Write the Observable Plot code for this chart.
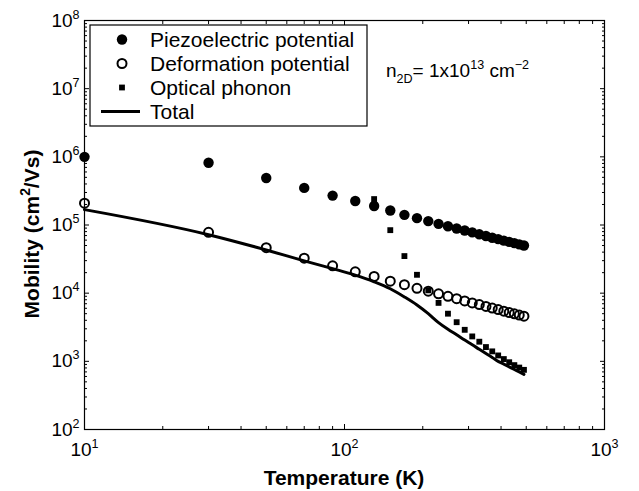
<!DOCTYPE html>
<html>
<head>
<meta charset="utf-8">
<script src="https://cdn.jsdelivr.net/npm/d3@7"></script>
<script src="https://cdn.jsdelivr.net/npm/@observablehq/plot@0.6"></script>
<style>
  body { margin: 0; background: #fff; }
  #chart { width: 639px; height: 491px; }
</style>
</head>
<body>
<div id="chart"></div>
<script>
// Electron mobility limited by each scattering mechanism, n2D = 1e13 cm^-2
const temperature = [10, 30, 50, 70, 90, 110, 130, 150, 170, 190, 210, 230, 250,
  270, 290, 310, 330, 350, 370, 390, 410, 430, 450, 470, 490];
const piezoelectric = [1.0e6, 8.2e5, 4.9e5, 3.5e5, 2.7e5, 2.25e5, 1.9e5, 1.63e5, 1.41e5,
  1.26e5, 1.14e5, 1.04e5, 9.6e4, 8.9e4, 8.3e4, 7.8e4, 7.3e4, 6.9e4, 6.5e4, 6.2e4,
  5.9e4, 5.65e4, 5.42e4, 5.2e4, 5.0e4];
const deformation = [2.09e5, 7.8e4, 4.65e4, 3.26e4, 2.52e4, 2.06e4, 1.76e4, 1.50e4, 1.33e4,
  1.18e4, 1.07e4, 9.8e3, 9.0e3, 8.3e3, 7.7e3, 7.2e3, 6.8e3, 6.4e3, 6.05e3, 5.75e3,
  5.45e3, 5.2e3, 4.98e3, 4.78e3, 4.6e3];
const opticalTemperature = [130, 150, 170, 190, 210, 230, 250, 270, 290, 310, 330, 350,
  370, 390, 410, 430, 450, 470, 490];
const optical = [2.4e5, 8.4e4, 3.5e4, 1.86e4, 1.1e4, 7.2e3, 5.0e3, 3.75e3, 2.9e3, 2.32e3,
  1.94e3, 1.62e3, 1.40e3, 1.22e3, 1.08e3, 970, 880, 810, 750];
const total = [1.68e5, 7.2e4, 4.3e4, 2.98e4, 2.29e4, 1.84e4, 1.47e4, 1.16e4, 8.8e3, 6.7e3,
  5.0e3, 3.7e3, 2.95e3, 2.45e3, 2.05e3, 1.75e3, 1.5e3, 1.3e3, 1.14e3, 1.0e3,
  910, 830, 760, 700, 645];

const seriesLabels = ["Piezoelectric potential", "Deformation potential", "Optical phonon", "Total"];
const xTickValues = [10, 100, 1000];
const xTickLabels = ["10^{1}", "10^{2}", "10^{3}"];
const yTickValues = [1e2, 1e3, 1e4, 1e5, 1e6, 1e7, 1e8];
const yTickLabels = ["10^{2}", "10^{3}", "10^{4}", "10^{5}", "10^{6}", "10^{7}", "10^{8}"];
const xTitle = "Temperature (K)";
const yTitle = "Mobility (cm^{2}/Vs)";
const note = "n_{2D}= 1x10^{13} cm^{\u22122}";

// minor log ticks: 2..9 within each decade
const minorTicks = (lo, hi) => {
  const out = [];
  for (let e = lo; e < hi; e++) for (let m = 2; m <= 9; m++) out.push(m * 10 ** e);
  return out;
};
const minorX = minorTicks(1, 3);
const minorY = minorTicks(2, 8);

const rows = (xs, ys) => xs.map((t, i) => ({t, mu: ys[i]}));
const piezoData = rows(temperature, piezoelectric);
const deformData = rows(temperature, deformation);
const opticalData = rows(opticalTemperature, optical);
const totalData = rows(temperature, total);

const FONT = '"Liberation Sans", Arial, Helvetica, sans-serif';
const TICK_FS = 19;
const blank = () => "";

// inward-pointing ticks on all four sides
const inward = (len, xs, ys) => [
  Plot.axisX(xs, {anchor: "bottom", tickSize: len, dy: -len, tickFormat: blank, label: null}),
  Plot.axisX(xs, {anchor: "top", tickSize: len, dy: len, tickFormat: blank, label: null}),
  Plot.axisY(ys, {anchor: "left", tickSize: len, dx: len, tickFormat: blank, label: null}),
  Plot.axisY(ys, {anchor: "right", tickSize: len, dx: -len, tickFormat: blank, label: null})
];

const chart = Plot.plot({
  width: 639,
  height: 491,
  marginTop: 20,
  marginRight: 35,
  marginBottom: 62,
  marginLeft: 84,
  style: {fontFamily: FONT, background: "white", color: "black"},
  x: {type: "log", domain: [10, 1000]},
  y: {type: "log", domain: [1e2, 1e8]},
  marks: [
    Plot.dot(piezoData, {x: "t", y: "mu", r: 5.2, fill: "black"}),
    Plot.dot(deformData, {x: "t", y: "mu", r: 4.5, stroke: "black", strokeWidth: 2, fill: "none"}),
    Plot.dot(opticalData, {x: "t", y: "mu", symbol: "square", r: 3.3, fill: "black"}),
    Plot.line(totalData, {x: "t", y: "mu", stroke: "black", strokeWidth: 3, curve: "monotone-x"}),
    ...inward(5, xTickValues, yTickValues),
    ...inward(3, minorX, minorY),
    Plot.axisX(xTickValues, {anchor: "bottom", tickSize: 0, tickPadding: 13, fontSize: TICK_FS,
      tickFormat: d => xTickLabels[xTickValues.indexOf(d)], label: null}),
    Plot.axisY(yTickValues, {anchor: "left", tickSize: 0, tickPadding: 5, fontSize: TICK_FS,
      tickFormat: d => yTickLabels[yTickValues.indexOf(d)], label: null}),
    Plot.frame({stroke: "black", strokeWidth: 1.2})
  ]
});

// write "^{..}" / "_{..}" as raised / lowered tspans
function rich(sel, str, size) {
  sel.text(null);
  const parts = str.split(/([\^_])\{([^}]*)\}/);
  let shift = 0;
  for (let i = 0; i < parts.length; i += 3) {
    if (parts[i]) {
      sel.append("tspan").attr("dy", shift ? -shift : null).text(parts[i]);
      shift = 0;
    }
    if (i + 1 < parts.length) {
      const target = parts[i + 1] === "^" ? -0.42 * size : 0.34 * size;
      sel.append("tspan").attr("dy", target - shift).attr("font-size", 0.66 * size).text(parts[i + 2]);
      shift = target;
    }
  }
}

const svg = d3.select(chart);
svg.selectAll("text").each(function () {
  const s = this.textContent;
  if (s.includes("^{")) rich(d3.select(this), s, TICK_FS);
});

// axis titles
svg.append("text")
  .attr("x", 344).attr("y", 485)
  .attr("text-anchor", "middle").attr("font-weight", "bold").attr("font-size", 21)
  .text(xTitle);
rich(svg.append("text")
  .attr("transform", "translate(39,234) rotate(-90)")
  .attr("text-anchor", "middle").attr("font-weight", "bold").attr("font-size", 21), yTitle, 21);

// carrier density note
rich(svg.append("text").attr("x", 386).attr("y", 77).attr("text-anchor", "start")
  .attr("font-size", 19), note, 19);

// legend
const lg = svg.append("g").attr("font-size", 21).attr("font-family", FONT).attr("text-anchor", "start");
lg.append("rect").attr("x", 90).attr("y", 25).attr("width", 277).attr("height", 101)
  .attr("fill", "white").attr("stroke", "black").attr("stroke-width", 1.2);
const rowY = [39.5, 63.5, 87.5, 111.5];
const sx = 122;
lg.append("circle").attr("cx", sx).attr("cy", rowY[0]).attr("r", 5.2).attr("fill", "black");
lg.append("circle").attr("cx", sx).attr("cy", rowY[1]).attr("r", 4.5)
  .attr("fill", "none").attr("stroke", "black").attr("stroke-width", 2);
lg.append("rect").attr("x", sx - 2.9).attr("y", rowY[2] - 2.9).attr("width", 5.8).attr("height", 5.8)
  .attr("fill", "black");
lg.append("line").attr("x1", 101).attr("x2", 140).attr("y1", rowY[3]).attr("y2", rowY[3])
  .attr("stroke", "black").attr("stroke-width", 3);
seriesLabels.forEach((label, i) => {
  lg.append("text").attr("x", 150).attr("y", rowY[i]).attr("dy", "0.36em").text(label);
});

document.getElementById("chart").appendChild(chart);
</script>
</body>
</html>
